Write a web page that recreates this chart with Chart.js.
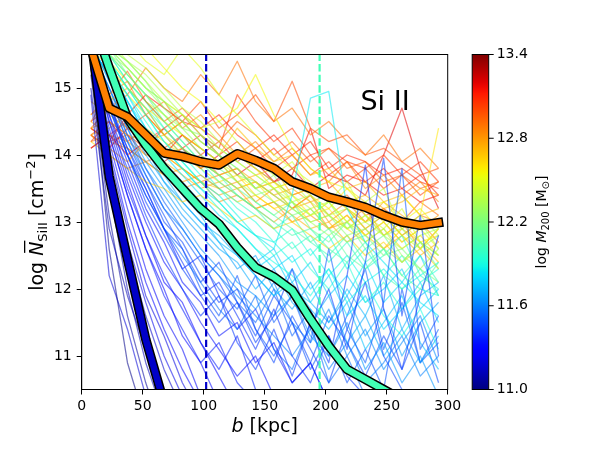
<!DOCTYPE html>
<html>
<head>
<meta charset="utf-8">
<script src="https://cdn.jsdelivr.net/npm/chart.js@4.4.0/dist/chart.umd.min.js"></script>
<style>
  html, body { margin: 0; padding: 0; background: #fff; }
</style>
</head>
<body>
<canvas id="profiles" width="600" height="450"></canvas>
<script>
// impact parameter bins [kpc]
const bins = [7.5, 22.5, 37.5, 52.5, 67.5, 82.5, 97.5, 112.5, 127.5, 142.5,
              157.5, 172.5, 187.5, 202.5, 217.5, 232.5, 247.5, 262.5, 277.5, 292.5];

// single halo profiles: log M200 of each halo and its log N(SiII) per bin
const haloMass = [
  11.02, 11.06, 11.10, 11.12, 11.15, 11.18, 11.20, 11.25, 11.28, 11.30,
  11.33, 11.36, 11.40, 11.42, 11.44, 11.45, 11.50,
  11.55, 11.60, 11.65, 11.70, 11.75, 11.80, 11.85, 11.90, 11.95,
  12.05, 12.10, 12.20, 12.25, 12.30, 12.35, 12.40, 12.45, 12.50, 12.55, 12.60,
  12.65, 12.70, 12.72, 12.75, 12.80, 12.85, 12.90, 12.95,
  13.00, 13.05, 13.10, 13.15, 13.20,
  11.32, 11.38, 11.46, 11.52, 11.48, 11.35, 11.27, 11.22,
  11.62, 11.68, 11.72, 11.78, 11.82, 11.88, 11.92, 11.98,
  12.02, 12.15, 12.28, 12.38,
  12.52, 12.58, 12.62, 12.68, 12.74, 12.78, 12.82, 12.88, 12.92, 13.02, 13.08
];
const haloN = [
  [15.4, 12.6, 10.9, 10.0],
  [15.2, 13.1, 11.6, 10.6, 9.8],
  [15.0, 12.9, 11.9, 11.1, 10.3],
  [15.5, 13.5, 12.0, 10.9, 10.1],
  [15.3, 13.9, 12.6, 11.6, 10.8, 10.2],
  [14.9, 12.2, 11.4, 10.4],
  [15.6, 14.0, 12.9, 11.9, 11.3, 10.6, 10.1],
  [15.4, 14.2, 13.2, 12.3, 11.6, 11.1, 10.4],
  [15.5, 14.3, 13.4, 12.6, 12.0, 11.3, 10.9, 10.3],
  [15.6, 14.5, 13.6, 12.8, 12.1, 11.8, 11.2, 10.7, 10.2],
  [15.5, 14.6, 13.9, 13.2, 12.7, 12.1, 11.8, 11.3, 11.5, 10.9, 11.2, 10.6, 10.9, 10.3],
  [15.4, 14.4, 13.5, 12.8, 12.2, 11.7, 11.2, 10.8, 11.3, 10.5, 10.1],
  [15.6, 14.8, 14.0, 13.4, 12.9, 12.4, 11.9, 12.1, 11.6, 11.1, 11.7, 11.0, 10.6, 11.3, 10.7, 10.4],
  [15.5, 14.5, 13.8, 13.1, 12.5, 12.0, 11.6, 11.9, 11.2, 10.8, 11.4, 10.7, 11.5, 10.9, 12.2, 13.85, 11.7, 10.8, 11.9, 12.8],
  [15.6, 14.7, 14.0, 13.3, 12.8, 12.3, 11.9, 11.5, 11.8, 11.2, 11.6, 12.3, 11.4, 12.0, 11.1, 12.4, 13.95, 11.6, 13.1, 11.0],
  [15.5, 14.7, 14.1, 13.6, 13.0, 12.7, 12.2, 11.8, 12.0, 11.4, 10.9, 11.6, 11.1, 10.6, 11.4, 12.1, 11.0, 10.5, 10.2],
  [15.6, 14.9, 14.3, 13.7, 13.2, 12.8, 12.4, 12.0, 11.7, 12.2, 11.5, 11.9, 11.2, 12.6, 11.4, 10.9, 11.8, 13.8, 11.1, 11.6],
  [15.5, 14.7, 14.0, 13.4, 12.9, 12.5, 12.1, 11.7, 11.4, 11.9, 11.1, 10.8, 11.5, 10.6, 11.0, 10.4],
  [15.5, 14.9, 14.2, 13.7, 13.2, 12.9, 12.5, 12.2, 11.9, 11.6, 11.3, 11.0, 11.4, 10.8, 11.2, 10.6, 10.9, 11.3, 10.7, 11.0],
  [15.6, 15.0, 14.4, 13.9, 13.5, 13.1, 12.8, 12.5, 12.1, 11.9, 11.6, 11.9, 11.3, 11.0, 11.5, 10.8, 11.2, 10.6, 11.0, 10.4],
  [15.7, 15.1, 14.6, 14.1, 13.6, 13.2, 12.9, 12.6, 12.4, 12.0, 12.3, 11.8, 11.5, 11.9, 11.2, 11.6, 11.0, 11.4, 10.9, 11.3],
  [15.6, 15.2, 14.7, 14.2, 13.8, 13.4, 13.1, 12.7, 12.5, 12.2, 11.9, 12.1, 11.7, 11.4, 11.8, 11.1, 11.5, 11.9, 11.2, 10.8],
  [15.7, 15.3, 14.8, 14.3, 13.9, 13.5, 13.2, 12.9, 12.6, 12.3, 12.5, 12.0, 11.8, 12.2, 11.6, 11.9, 11.4, 11.7, 12.1, 11.5],
  [15.6, 15.2, 14.8, 14.4, 14.1, 13.8, 13.5, 13.3, 13.0, 12.8, 12.6, 13.4, 14.85, 14.95, 13.2, 12.7, 12.4, 12.1, 11.8, 11.6],
  [15.7, 15.3, 14.9, 14.5, 14.1, 13.8, 13.5, 13.2, 12.9, 12.6, 12.4, 12.2, 11.9, 12.3, 11.8, 12.1, 11.6, 11.3, 11.7, 11.1],
  [15.8, 15.4, 15.0, 14.6, 14.2, 13.9, 13.6, 13.3, 13.0, 12.8, 12.5, 12.7, 12.3, 12.0, 12.4, 11.8, 12.1, 11.7, 12.0, 11.9],
  [15.8, 15.4, 15.0, 14.7, 14.4, 14.1, 13.9, 13.6, 13.4, 13.2, 13.0, 12.8, 12.9, 12.6, 12.4, 12.7, 12.2, 12.0, 12.3, 11.9],
  [15.9, 15.5, 15.2, 14.9, 14.5, 14.2, 13.9, 13.7, 13.5, 13.3, 13.1, 12.9, 12.7, 12.9, 12.5, 12.3, 12.6, 12.2, 12.0, 12.4],
  [15.8, 15.6, 15.3, 15.0, 14.8, 14.5, 14.2, 14.0, 13.8, 13.5, 13.3, 13.1, 13.2, 12.9, 12.7, 12.8, 12.5, 12.6, 12.3, 12.1],
  [15.9, 15.6, 15.4, 15.1, 14.7, 14.4, 14.3, 14.0, 13.7, 13.6, 13.4, 13.2, 13.0, 13.1, 12.8, 12.9, 12.6, 12.4, 12.7, 12.5],
  [15.7, 15.5, 15.2, 14.9, 14.6, 14.4, 14.1, 13.9, 13.6, 13.4, 13.5, 13.2, 13.0, 12.8, 13.0, 12.7, 12.9, 12.5, 12.3, 12.6],
  [15.8, 15.6, 15.4, 15.2, 14.9, 14.6, 14.3, 14.1, 13.9, 13.7, 13.5, 13.3, 13.4, 13.1, 12.9, 13.0, 12.8, 12.6, 12.8, 12.9],
  [15.9, 15.7, 15.5, 15.3, 15.0, 14.7, 14.5, 14.2, 14.0, 13.8, 13.6, 13.4, 13.2, 13.3, 13.0, 13.3, 13.5, 12.9, 13.1, 12.8],
  [15.8, 15.6, 15.3, 15.0, 14.8, 14.6, 14.4, 14.5, 14.2, 13.9, 13.7, 13.9, 13.5, 13.3, 13.6, 13.1, 12.9, 13.2, 12.7, 12.5],
  [16.0, 15.8, 15.7, 15.4, 15.2, 15.6, 15.3, 14.9, 14.6, 14.3, 14.0, 13.8, 13.6, 13.4, 13.2, 13.0, 13.1, 12.8, 12.6, 12.9],
  [15.9, 15.7, 15.5, 15.6, 15.3, 15.0, 14.8, 14.5, 14.7, 15.2, 14.6, 14.1, 13.8, 13.6, 13.5, 13.2, 13.3, 13.0, 13.2, 12.9],
  [15.6, 15.3, 15.0, 14.7, 14.5, 14.3, 14.1, 13.9, 14.0, 13.8, 13.5, 13.6, 13.4, 13.2, 13.5, 13.3, 13.0, 13.4, 13.1, 14.4],
  [14.2, 14.0, 13.8, 13.6, 13.5, 13.3, 13.4, 13.2, 13.0, 13.1, 12.9, 13.0, 12.8, 12.6, 12.8, 12.5, 12.7, 12.4, 12.6, 12.3],
  [14.6, 14.8, 15.0, 14.7, 14.3, 14.5, 14.2, 14.0, 14.4, 14.1, 13.9, 14.0, 13.7, 13.8, 13.5, 13.6, 13.3, 13.4, 13.1, 13.2],
  [14.3, 14.4, 14.6, 14.2, 14.3, 14.0, 13.8, 13.9, 13.6, 13.7, 13.8, 13.4, 13.5, 13.6, 13.3, 13.4, 13.2, 13.3, 13.5, 13.4],
  [14.4, 14.5, 14.3, 14.2, 14.0, 14.1, 13.9, 13.7, 13.8, 13.6, 13.4, 13.5, 13.3, 13.4, 13.2, 13.0, 13.3, 13.1, 12.9, 13.0],
  [14.3, 14.1, 13.9, 14.2, 13.8, 13.6, 13.7, 13.5, 13.6, 13.3, 13.5, 13.2, 13.4, 13.0, 13.2, 12.9, 13.1, 12.8, 13.0, 12.7],
  [14.5, 14.9, 15.1, 14.6, 14.8, 14.4, 14.6, 14.3, 14.0, 14.2, 13.9, 14.1, 13.8, 13.6, 13.9, 13.5, 13.7, 13.4, 13.6, 13.3],
  [14.4, 14.7, 14.9, 15.3, 15.0, 14.8, 15.2, 14.9, 15.4, 14.8, 14.5, 14.7, 14.3, 14.5, 14.2, 14.0, 14.3, 13.9, 14.1, 13.8],
  [14.6, 14.9, 15.25, 14.8, 14.5, 14.7, 14.4, 14.2, 14.5, 14.3, 14.0, 14.2, 13.9, 14.1, 13.8, 13.9, 13.6, 13.7, 13.5, 13.6],
  [14.5, 14.7, 14.4, 14.6, 14.3, 14.5, 14.8, 14.4, 14.6, 14.9, 14.5, 15.1, 14.4, 14.2, 14.3, 14.0, 14.1, 13.9, 13.7, 13.8],
  [14.2, 14.5, 14.3, 14.1, 14.4, 14.6, 14.3, 14.1, 14.9, 14.5, 14.2, 14.4, 14.0, 14.1, 13.9, 13.8, 14.0, 13.7, 13.9, 13.6],
  [14.4, 14.2, 14.6, 14.9, 14.7, 14.5, 14.4, 14.6, 14.3, 14.1, 14.3, 14.0, 14.2, 13.8, 14.0, 13.9, 13.7, 13.8, 13.6, 13.5],
  [14.3, 14.1, 14.4, 14.2, 14.0, 14.3, 14.1, 13.9, 14.0, 13.8, 13.6, 13.7, 14.4, 13.5, 13.7, 13.6, 13.4, 13.5, 13.3, 13.4],
  [14.1, 14.3, 14.0, 14.2, 13.9, 14.1, 13.8, 14.0, 13.7, 13.9, 13.6, 13.8, 13.5, 13.7, 13.6, 13.4, 14.0, 14.7, 13.8, 13.2],
  [15.6, 14.6, 13.7, 13.0, 12.4, 12.0, 11.5, 11.1, 10.7, 11.0, 10.4],
  [15.5, 14.8, 14.1, 13.5, 12.9, 12.3, 12.5, 11.9, 11.4, 11.7, 11.1, 10.6, 10.9, 10.3],
  [15.7, 14.9, 14.2, 13.6, 13.1, 12.6, 12.1, 12.4, 11.8, 11.3, 11.9, 11.5, 10.9, 11.6, 11.2, 10.7, 11.3, 10.8, 11.5, 10.6],
  [15.6, 15.0, 14.4, 13.8, 13.3, 12.9, 12.5, 12.2, 11.8, 11.5, 12.0, 11.3, 11.7, 11.0, 11.6, 12.3, 11.1, 11.8, 10.9, 11.4],
  [15.5, 14.8, 14.0, 13.5, 12.9, 12.6, 12.0, 11.6, 12.2, 11.4, 11.0, 11.5, 10.8, 11.3, 10.6, 11.1, 10.5, 12.0, 10.9, 11.2],
  [15.4, 14.3, 13.4, 12.6, 11.9, 11.4, 10.9, 11.2, 10.6, 10.3],
  [15.5, 14.1, 13.0, 12.1, 11.4, 10.8, 10.3],
  [15.3, 13.8, 12.7, 11.8, 11.0, 10.4],
  [15.6, 15.0, 14.3, 13.8, 13.4, 13.0, 12.6, 12.3, 12.0, 11.7, 12.1, 11.5, 11.2, 11.7, 11.0, 11.4, 10.8, 11.2, 11.6, 10.9],
  [15.7, 15.1, 14.5, 14.0, 13.6, 13.3, 13.0, 12.7, 12.3, 12.5, 12.0, 11.7, 12.1, 11.5, 11.9, 11.3, 11.7, 11.0, 11.5, 11.8],
  [15.6, 15.2, 14.6, 14.1, 13.7, 13.3, 13.0, 12.8, 12.5, 12.2, 11.9, 12.3, 11.8, 11.5, 12.0, 11.6, 12.2, 11.4, 11.9, 12.1],
  [15.8, 15.3, 14.8, 14.3, 13.9, 13.6, 13.3, 13.0, 12.7, 12.4, 12.6, 12.1, 12.4, 11.9, 12.2, 11.8, 12.0, 12.3, 11.7, 12.0],
  [15.7, 15.3, 14.9, 14.4, 14.0, 13.7, 13.4, 13.1, 12.9, 12.6, 12.3, 12.5, 12.0, 12.3, 11.9, 12.4, 11.8, 12.1, 12.5, 11.9],
  [15.8, 15.4, 15.0, 14.6, 14.2, 13.9, 13.6, 13.4, 13.1, 12.8, 12.7, 12.4, 12.6, 12.2, 12.5, 12.1, 12.3, 12.0, 12.2, 12.4],
  [15.7, 15.4, 15.0, 14.7, 14.3, 14.0, 13.7, 13.5, 13.2, 13.0, 12.7, 12.9, 12.5, 12.8, 12.3, 12.6, 12.2, 12.5, 12.1, 12.3],
  [15.8, 15.5, 15.1, 14.8, 14.4, 14.1, 13.8, 13.5, 13.3, 13.1, 12.9, 12.6, 12.8, 12.4, 12.7, 12.3, 12.5, 12.8, 12.2, 12.0],
  [15.8, 15.5, 15.1, 14.8, 14.5, 14.2, 13.9, 13.7, 13.4, 13.2, 12.9, 13.1, 12.7, 12.5, 12.8, 12.4, 12.6, 12.2, 12.5, 12.1],
  [15.9, 15.6, 15.2, 14.9, 14.6, 14.3, 14.0, 13.8, 13.6, 13.3, 13.1, 13.3, 12.9, 12.7, 13.0, 12.6, 12.8, 12.4, 12.7, 12.3],
  [15.8, 15.5, 15.3, 15.0, 14.7, 14.5, 14.2, 14.0, 13.8, 13.5, 13.7, 13.3, 13.1, 13.3, 12.9, 13.1, 12.8, 12.9, 12.6, 12.8],
  [15.9, 15.7, 15.4, 15.1, 14.8, 14.6, 14.4, 14.1, 13.9, 13.7, 13.5, 13.6, 13.3, 13.1, 13.2, 12.9, 13.1, 12.8, 13.0, 12.6],
  [15.7, 15.4, 15.1, 14.8, 14.6, 14.3, 14.1, 13.9, 13.7, 13.5, 13.6, 13.3, 13.1, 13.3, 13.0, 12.8, 13.0, 12.7, 12.9, 12.6],
  [15.5, 15.2, 14.9, 14.6, 14.3, 14.1, 13.9, 13.7, 13.5, 13.6, 13.3, 13.4, 13.1, 13.2, 12.9, 13.1, 12.8, 13.0, 12.7, 12.8],
  [15.2, 14.9, 14.6, 14.4, 14.2, 14.0, 13.8, 13.6, 13.7, 13.4, 13.2, 13.3, 13.0, 13.1, 12.9, 12.7, 12.9, 12.6, 12.8, 12.5],
  [14.8, 14.6, 14.4, 14.2, 14.0, 13.8, 13.6, 13.5, 13.3, 13.4, 13.2, 13.0, 13.2, 12.9, 13.1, 12.8, 12.6, 12.9, 12.7, 12.4],
  [14.5, 14.3, 14.2, 14.0, 13.9, 13.7, 13.5, 13.6, 13.4, 13.2, 13.3, 13.1, 12.9, 13.0, 12.7, 12.9, 12.6, 12.8, 12.5, 12.7],
  [14.4, 14.2, 14.1, 13.9, 13.7, 13.8, 13.6, 13.4, 13.5, 13.2, 13.0, 13.2, 13.3, 12.9, 13.1, 12.8, 13.0, 12.7, 12.9, 13.1],
  [14.3, 14.0, 13.8, 13.9, 13.7, 13.5, 13.6, 13.3, 13.4, 13.2, 13.3, 13.0, 13.1, 12.9, 13.0, 13.2, 12.8, 13.0, 12.6, 12.9],
  [14.2, 14.3, 14.1, 13.9, 14.0, 13.8, 13.6, 13.7, 13.5, 13.6, 13.4, 13.2, 13.4, 13.1, 13.3, 13.0, 13.2, 12.9, 13.1, 13.0],
  [14.4, 14.2, 14.3, 14.0, 14.1, 13.9, 14.0, 13.7, 13.8, 13.5, 13.6, 13.4, 13.5, 13.3, 13.4, 13.1, 13.2, 13.0, 13.3, 13.1],
  [14.3, 14.5, 14.2, 14.4, 14.1, 14.3, 14.0, 14.2, 13.9, 14.1, 13.8, 14.0, 13.7, 13.9, 13.6, 13.8, 13.5, 13.7, 13.4, 13.6],
  [14.1, 14.3, 14.5, 14.2, 14.4, 14.1, 14.3, 14.0, 14.2, 13.9, 14.1, 13.8, 14.0, 13.7, 13.9, 13.6, 13.8, 13.5, 13.7, 13.4]
];

// stacked profiles of the three mass bins
const stackMass = [11.15, 12.03, 12.86];
const stackLow  = [15.75, 13.68, 12.45, 11.25, 10.3];
const stackMid  = [16.1, 15.3, 14.55, 14.15, 13.8, 13.5, 13.2, 12.97, 12.62, 12.32,
                   12.18, 11.98, 11.55, 11.15, 10.8, 10.65, 10.5, 10.35];
const stackHigh = [15.6, 14.7, 14.57, 14.3, 14.03, 13.98, 13.9, 13.85, 14.02, 13.92,
                   13.8, 13.6, 13.5, 13.37, 13.3, 13.22, 13.1, 13.0, 12.95, 12.99];

// virial radii of the low and mid bins [kpc]
const rvir = [102, 195];
const rvirMass = [11.15, 12.03];

const xTicks = [0, 50, 100, 150, 200, 250, 300];
const yTicks = [11, 12, 13, 14, 15];
const cbTicks = [11.0, 11.6, 12.2, 12.8, 13.4];
const cbMin = 11.0, cbMax = 13.4;

// matplotlib jet
function interp(pts, t) {
  for (let i = 1; i < pts.length; i++) {
    if (t <= pts[i][0]) {
      const [x0, y0] = pts[i - 1], [x1, y1] = pts[i];
      return y0 + (y1 - y0) * (t - x0) / (x1 - x0);
    }
  }
  return pts[pts.length - 1][1];
}
function jet(m, alpha = 1) {
  const t = Math.max(0, Math.min(1, (m - cbMin) / (cbMax - cbMin)));
  const r = interp([[0, 0], [0.35, 0], [0.66, 1], [0.89, 1], [1, 0.5]], t);
  const g = interp([[0, 0], [0.125, 0], [0.375, 1], [0.64, 1], [0.91, 0], [1, 0]], t);
  const b = interp([[0, 0.5], [0.11, 1], [0.34, 1], [0.65, 0], [1, 0]], t);
  return `rgba(${Math.round(r * 255)},${Math.round(g * 255)},${Math.round(b * 255)},${alpha})`;
}

const toPts = vals => vals.map((v, i) => ({ x: bins[i], y: v }));

const datasets = [];
haloN.forEach((vals, i) => {
  datasets.push({
    data: toPts(vals),
    borderColor: jet(haloMass[i], 0.55),
    borderWidth: 1.3,
    order: 100
  });
});
rvir.forEach((r, i) => {
  datasets.push({
    data: [{ x: r, y: 10.5 }, { x: r, y: 15.5 }],
    borderColor: jet(rvirMass[i]),
    borderWidth: 2.2,
    borderDash: [7.4, 3.2],
    borderCapStyle: 'butt',
    order: 50
  });
});
[stackLow, stackMid, stackHigh].forEach((vals, i) => {
  datasets.push({
    data: toPts(vals),
    borderColor: '#000',
    borderWidth: 9.5,
    borderCapStyle: 'square',
    order: 20 - 2 * i
  });
  datasets.push({
    data: toPts(vals),
    borderColor: jet(stackMass[i]),
    borderWidth: 6.5,
    borderCapStyle: 'square',
    order: 19 - 2 * i
  });
});
datasets.forEach(d => {
  d.pointRadius = 0;
  d.tension = 0;
  d.clip = 0;
  d.fill = false;
  d.borderJoinStyle = 'round';
});

function drawRich(ctx, parts, cx, cy, rot) {
  ctx.save();
  ctx.translate(cx, cy);
  ctx.rotate(rot);
  let w = 0;
  parts.forEach(p => { ctx.font = p.font; p.w = ctx.measureText(p.t).width; w += p.w; });
  let xx = -w / 2;
  ctx.textBaseline = 'alphabetic';
  ctx.textAlign = 'left';
  parts.forEach(p => {
    ctx.font = p.font;
    ctx.fillText(p.t, xx, p.dy);
    if (p.bar) ctx.fillRect(xx + 3, p.bar, p.w - 2, 1.3);
    xx += p.w;
  });
  ctx.restore();
}

const F = 'DejaVu Sans';
const decorations = {
  id: 'decorations',
  afterDraw(chart) {
    const { ctx, chartArea: a, scales: { x, y } } = chart;
    ctx.save();
    ctx.fillStyle = '#000';
    ctx.strokeStyle = '#000';
    ctx.lineWidth = 1;
    ctx.strokeRect(a.left, a.top, a.right - a.left, a.bottom - a.top);

    ctx.font = `27px "${F}"`;
    ctx.fillText('Si II', x.getPixelForValue(228.5), y.getPixelForValue(14.67));

    // colorbar
    const cx0 = a.right + 24.5, cx1 = cx0 + 16.5, top = a.top, bot = a.bottom;
    const grad = ctx.createLinearGradient(0, bot, 0, top);
    for (let k = 0; k <= 60; k++) {
      grad.addColorStop(k / 60, jet(cbMin + (cbMax - cbMin) * k / 60));
    }
    ctx.fillStyle = grad;
    ctx.fillRect(cx0, top, cx1 - cx0, bot - top);
    ctx.strokeRect(cx0, top, cx1 - cx0, bot - top);
    ctx.fillStyle = '#000';
    ctx.font = `14px "${F}"`;
    ctx.textBaseline = 'middle';
    cbTicks.forEach(v => {
      const py = bot - (v - cbMin) / (cbMax - cbMin) * (bot - top);
      ctx.beginPath();
      ctx.moveTo(cx1, py);
      ctx.lineTo(cx1 + 5, py);
      ctx.stroke();
      ctx.fillText(v.toFixed(1), cx1 + 8, py);
    });
    ctx.restore();

    ctx.fillStyle = '#000';
    // colorbar label
    drawRich(ctx, [
      { t: 'log ', font: `14px "${F}"`, dy: 5 },
      { t: 'M', font: `italic 14px "${F}"`, dy: 5 },
      { t: '200', font: `10px "${F}"`, dy: 8 },
      { t: ' [M', font: `14px "${F}"`, dy: 5 },
      { t: '\u2299', font: `10px "${F}"`, dy: 8 },
      { t: ']', font: `14px "${F}"`, dy: 5 }
    ], cx1 + 52.5, (top + bot) / 2, -Math.PI / 2);

    // y label
    drawRich(ctx, [
      { t: 'log ', font: `19px "${F}"`, dy: 7 },
      { t: 'N', font: `italic 19px "${F}"`, dy: 7, bar: -12 },
      { t: 'SiII', font: `13px "${F}"`, dy: 11 },
      { t: ' [cm', font: `19px "${F}"`, dy: 7 },
      { t: '\u22122', font: `13px "${F}"`, dy: -1.5 },
      { t: ']', font: `19px "${F}"`, dy: 7 }
    ], 36, (a.top + a.bottom) / 2, -Math.PI / 2);

    // x label
    drawRich(ctx, [
      { t: 'b', font: `italic 19px "${F}"`, dy: 7 },
      { t: ' [kpc]', font: `19px "${F}"`, dy: 7 }
    ], (a.left + a.right) / 2, 425, 0);
  }
};

Chart.defaults.font.family = F;
Chart.defaults.color = '#000';

new Chart(document.getElementById('profiles'), {
  type: 'line',
  data: { datasets },
  options: {
    responsive: false,
    animation: false,
    devicePixelRatio: 1,
    layout: { padding: { left: 0, right: 152.3, top: 54.5, bottom: 0 } },
    plugins: { legend: { display: false }, tooltip: { enabled: false } },
    scales: {
      x: {
        type: 'linear',
        min: 0, max: 300,
        afterBuildTicks: s => { s.ticks = xTicks.map(v => ({ value: v })); },
        afterFit: s => { s.height = 60.5; },
        grid: { drawOnChartArea: false, drawTicks: true, tickLength: 5, color: '#000' },
        border: { display: true, color: '#000', width: 1 },
        ticks: { font: { size: 14 }, padding: 3, maxRotation: 0 }
      },
      y: {
        type: 'linear',
        min: 10.5, max: 15.5,
        afterBuildTicks: s => { s.ticks = yTicks.map(v => ({ value: v })); },
        afterFit: s => { s.width = 81.7; },
        grid: { drawOnChartArea: false, drawTicks: true, tickLength: 5, color: '#000' },
        border: { display: true, color: '#000', width: 1 },
        ticks: { font: { size: 14 }, padding: 5 }
      }
    }
  },
  plugins: [decorations]
});
</script>
</body>
</html>
